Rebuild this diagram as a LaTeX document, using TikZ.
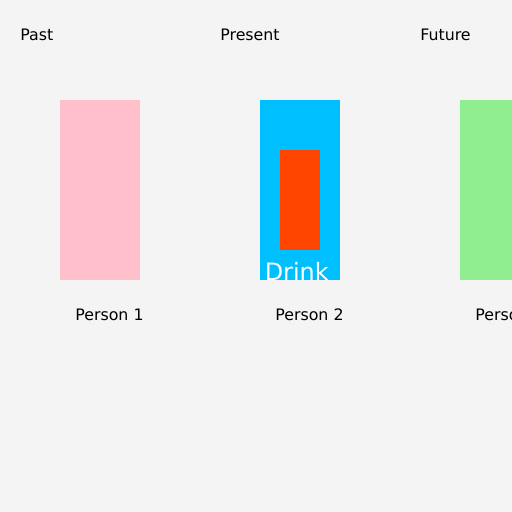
\documentclass[tikz,border=0pt]{standalone}
\usepackage{fontspec}
\setmainfont{DejaVu Sans}
\usepackage{xcolor}
\usepackage{tikz}
\usetikzlibrary{positioning}
\definecolor{bggray}{HTML}{F4F4F4}
\definecolor{pastpink}{HTML}{FFC0CB}
\definecolor{skyblue}{HTML}{00BFFF}
\definecolor{drinkred}{HTML}{FF4500}
\definecolor{futuregreen}{HTML}{90EE90}
\begin{document}
\begin{tikzpicture}[x=0.02cm,y=-0.02cm,
	lbl/.style={anchor=base west,inner sep=0pt,font=\fontsize{9}{11}\selectfont}]
	\useasboundingbox (0,0) rectangle (512,512);
	\clip (0,0) rectangle (512,512);
	\fill[bggray] (0,0) rectangle (512,512);
	% era titles
	\node[lbl] (past) at (20,40) {Past};
	\node[lbl] (present) at (220,40) {Present};
	\node[lbl] (future) at (420,40) {Future};
	% people
	\fill[pastpink] (60,100) rectangle (140,280);
	\fill[skyblue] (260,100) rectangle (340,280);
	\fill[drinkred] (280,150) rectangle (320,250);
	\fill[futuregreen] (460,100) rectangle (540,280);
	\node[anchor=base west,inner sep=0pt,text=white,font=\fontsize{13.6}{15}\selectfont] (drink) at (264.5,280) {Drink};
	\node[lbl] (p1) at (75,320) {Person 1};
	\node[lbl] (p2) at (275,320) {Person 2};
	\node[lbl] (p3) at (475,320) {Person 3};
\end{tikzpicture}
\end{document}
